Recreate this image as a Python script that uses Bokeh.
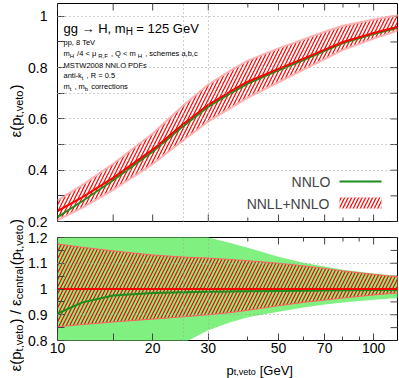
import math
from bokeh.plotting import figure
from bokeh.models import FixedTicker, Range1d, Label, BoxAnnotation, Grid
from bokeh.layouts import column, row
from bokeh.embed import file_html
from bokeh.resources import INLINE

# ---------------- data ----------------
pt_veto = [10, 12, 15, 20, 25, 30, 35, 40, 50, 60, 70, 80, 100, 120]

# upper panel: efficiency
eff_resum = [0.240, 0.295, 0.370, 0.480, 0.580, 0.655, 0.705, 0.745, 0.795, 0.835, 0.870, 0.900, 0.935, 0.960]
eff_resum_lo = [0.205, 0.254, 0.323, 0.424, 0.517, 0.590, 0.640, 0.683, 0.743, 0.792, 0.833, 0.869, 0.913, 0.946]
eff_resum_hi = [0.282, 0.343, 0.425, 0.543, 0.652, 0.734, 0.786, 0.827, 0.875, 0.910, 0.940, 0.963, 0.988, 1.005]
eff_nnlo = [0.217, 0.280, 0.361, 0.472, 0.572, 0.648, 0.698, 0.738, 0.789, 0.829, 0.865, 0.896, 0.931, 0.956]

# lower panel: ratio to central NNLL+NNLO
ratio_resum = [1.0, 1.0, 1.0, 1.0, 1.0, 1.0, 1.0, 1.0, 1.0, 1.0, 1.0, 1.0, 1.0, 1.0]
ratio_resum_lo = [0.853, 0.862, 0.872, 0.883, 0.892, 0.900, 0.908, 0.917, 0.935, 0.948, 0.957, 0.965, 0.977, 0.985]
ratio_resum_hi = [1.175, 1.162, 1.148, 1.132, 1.124, 1.120, 1.115, 1.110, 1.100, 1.090, 1.080, 1.070, 1.057, 1.047]
ratio_nnlo = [0.905, 0.948, 0.975, 0.984, 0.987, 0.989, 0.990, 0.991, 0.992, 0.993, 0.994, 0.995, 0.996, 0.996]
ratio_nnlo_lo = [0.55, 0.60, 0.66, 0.73, 0.79, 0.84, 0.87, 0.89, 0.912, 0.928, 0.940, 0.948, 0.958, 0.965]
ratio_nnlo_hi = [1.60, 1.50, 1.42, 1.31, 1.24, 1.20, 1.18, 1.16, 1.125, 1.102, 1.087, 1.075, 1.060, 1.050]

x_ticks = [10, 15, 20, 30, 50, 70, 100]
x_tick_labels = ["10", "", "20", "30", "50", "70", "100"]
x_minor_ticks = [40, 60, 80, 90]
y1_ticks = [0.2, 0.3, 0.4, 0.5, 0.6, 0.7, 0.8, 0.9, 1.0]
y1_tick_labels = ["0.2", "", "0.4", "", "0.6", "", "0.8", "", "1"]
y2_ticks = [0.8, 0.85, 0.9, 0.95, 1.0, 1.05, 1.1, 1.15, 1.2]
y2_tick_labels = ["0.8", "", "0.9", "", "1", "", "1.1", "", "1.2"]
y1_grid = [0.4, 0.5, 0.6, 0.7, 0.8, 1.0]
y2_grid = [0.9, 1.1]
veto_lines = [25, 30]

FONT = "Liberation Sans"
RED = "#ff0000"
GREEN_LINE = "#1e8c1e"
GREEN_FILL = "#80f080"
PINK = "#ffb0b0"
GRID_C = "#a0a0a0"
TICK_C = "#444444"

# ---------------- layout (window pixels, page margin 0) ----------------
YLAB_W = 24
PW = 399 - YLAB_W
xr = Range1d(10, 119)
yr1 = Range1d(0.2, 1.05)
yr2 = Range1d(0.8, 1.2)

# upper panel canvas: y 0..229, frame 3..221 ; lower panel canvas: y 229..358, frame 237..340
p1 = figure(width=PW, height=229, x_axis_type="log", x_range=xr, y_range=yr1, x_axis_location=None,
            output_backend="svg", toolbar_location=None,
            min_border_left=33, min_border_right=2, min_border_top=3, min_border_bottom=8)
p2 = figure(width=PW, height=129, x_axis_type="log", x_range=xr, y_range=yr2,
            output_backend="svg", toolbar_location=None,
            min_border_left=33, min_border_right=2, min_border_top=8, min_border_bottom=18)


def dash_ticks(p, xs, ys, size, vertical):
    p.scatter(xs, ys, marker="dash", size=size, angle=(math.pi / 2 if vertical else 0),
              line_color=TICK_C, line_width=1)


def style(p, yr, ticks, labels, grid_y):
    p.outline_line_color = "black"
    p.outline_line_width = 1
    for g in list(p.grid):
        g.visible = False
    for ax in p.yaxis:
        ax.ticker = FixedTicker(ticks=ticks, minor_ticks=[])
        ax.major_label_overrides = {t: l for t, l in zip(ticks, labels)}
        ax.major_label_standoff = 10
    for ax in p.xaxis:
        ax.ticker = FixedTicker(ticks=x_ticks, minor_ticks=x_minor_ticks)
        ax.major_label_overrides = {t: l for t, l in zip(x_ticks, x_tick_labels)}
        ax.major_label_standoff = 2
    for ax in p.axis:
        ax.axis_line_color = None
        ax.major_tick_in = 7
        ax.major_tick_out = 0
        ax.minor_tick_in = 4
        ax.minor_tick_out = 0
        ax.major_tick_line_color = TICK_C
        ax.minor_tick_line_color = TICK_C
        ax.major_label_text_font = FONT
        ax.major_label_text_font_size = "14px"
        ax.major_label_text_color = "black"
    for dim, tk in ((0, veto_lines), (1, grid_y)):
        p.add_layout(Grid(dimension=dim, ticker=FixedTicker(ticks=tk), grid_line_color=GRID_C,
                          grid_line_dash="1 3", grid_line_width=1, level="overlay"))
    # mirrored ticks on the top and right edges (half of each dash is clipped by the frame)
    dash_ticks(p, x_ticks, [yr.end] * len(x_ticks), 14, True)
    dash_ticks(p, x_minor_ticks, [yr.end] * len(x_minor_ticks), 8, True)
    dash_ticks(p, [xr.end] * len(ticks), ticks, 14, False)


style(p1, yr1, y1_ticks, y1_tick_labels, y1_grid)
style(p2, yr2, y2_ticks, y2_tick_labels, y2_grid)
# bottom ticks of the upper panel (it has no x labels)
dash_ticks(p1, x_ticks, [yr1.start] * len(x_ticks), 14, True)
dash_ticks(p1, x_minor_ticks, [yr1.start] * len(x_minor_ticks), 8, True)

# upper panel glyphs
p1.varea(pt_veto, eff_resum_lo, eff_resum_hi, fill_color=None, hatch_pattern="/",
         hatch_color=RED, hatch_scale=7, hatch_weight=1.2)
p1.line(pt_veto, eff_resum_lo, line_color=PINK, line_width=2)
p1.line(pt_veto, eff_resum_hi, line_color=PINK, line_width=2)
p1.line(pt_veto, eff_nnlo, line_color=GREEN_LINE, line_width=2)
p1.line(pt_veto, eff_resum, line_color=RED, line_width=2)

# lower panel glyphs
p2.varea(pt_veto, ratio_nnlo_lo, ratio_nnlo_hi, fill_color=GREEN_FILL)
p2.varea(pt_veto, ratio_resum_lo, ratio_resum_hi, fill_color=None, hatch_pattern="/",
         hatch_color=RED, hatch_scale=7, hatch_weight=1.2)
p2.line(pt_veto, ratio_resum_lo, line_color="#ff6060", line_width=1)
p2.line(pt_veto, ratio_resum_hi, line_color="#ff6060", line_width=1)
p2.line(pt_veto, ratio_nnlo, line_color=GREEN_LINE, line_width=2)
p2.line(pt_veto, ratio_resum, line_color=RED, line_width=2)


# strips holding the axis titles (their frame fills the whole canvas)
def strip(w, h):
    f = figure(width=w, height=h, x_range=Range1d(0, 1), y_range=Range1d(0, 1),
               x_axis_location=None, y_axis_location=None, output_backend="svg", toolbar_location=None,
               min_border=0)
    f.outline_line_color = None
    f.grid.visible = False
    return f


ylab = strip(YLAB_W, 378)
xlab = strip(PW, 20)          # y 358..378

# ---------------- rich text helper ----------------
W = {' ': 278, '(': 333, ')': 333, '+': 584, ',': 278, '-': 333, '.': 278, '/': 278, '<': 584, '=': 584,
     '[': 278, ']': 278, 'μ': 576, 'ε': 450, '→': 1000}
for c in "0123456789":
    W[c] = 556
W.update(dict(zip("ABCDEFGHIJKLMNOPQRSTUVWXYZ",
                  [667, 667, 722, 722, 667, 611, 778, 722, 278, 500, 667, 556, 833, 722, 778, 667, 778, 722, 667, 611, 722, 667, 944, 667, 667, 611])))
W.update(dict(zip("abcdefghijklmnopqrstuvwxyz",
                  [556, 556, 500, 556, 556, 278, 556, 556, 222, 222, 500, 222, 833, 556, 556, 556, 556, 333, 500, 278, 556, 500, 722, 500, 500, 500])))


def tw(s, size):
    return sum(W.get(c, 556) for c in s) / 1000.0 * size


# (figure, frame-left x, frame-bottom y) in window pixels
T1 = (p1, 57, 221)
TY = (ylab, 0, 378)
TX = (xlab, YLAB_W, 378)


def rich(target, segs, wx, wy, vertical=False):
    """segs: (text, font size, baseline shift down, extra gap after)"""
    fig, fl, fb = target
    pos = wy if vertical else wx
    for text, size, shift, gap in segs:
        if vertical:
            lab = Label(x=wx + shift - fl, y=fb - pos, angle=math.pi / 2)
        else:
            lab = Label(x=pos - fl, y=fb - (wy + shift))
        lab.update(x_units="screen", y_units="screen", text=text, text_font=FONT,
                   text_font_size=f"{size}px", text_baseline="alphabetic", text_align="left",
                   text_color="black")
        fig.add_layout(lab)
        w = tw(text, size) + gap
        pos = pos - w if vertical else pos + w


S, s, d, g = 7.5, 6, 2, 3
rich(T1, [("gg → H, m", 13, 0, 0), ("H", 10, 3, 3.5), ("= 125 GeV", 13, 0, 0)], 63, 28)
rich(T1, [("pp, 8 TeV", S, 0, 0)], 63, 42)
rich(T1, [("m", S, 0, 0), ("H", s, d, g), (" /4 < μ", S, 0, 0), ("R,F", s, d, g), (" , Q < m", S, 0, 0),
          ("H", s, d, g), (" , schemes a,b,c", S, 0, 0)], 63, 53)
rich(T1, [("MSTW2008 NNLO PDFs", S, 0, 0)], 63, 65)
rich(T1, [("anti-k", S, 0, 0), ("t", s, d, g), (", R = 0.5", S, 0, 0)], 63, 75)
rich(T1, [("m", S, 0, 0), ("t", s, d, g), (", m", S, 0, 0), ("b", s, d, g), (" corrections", S, 0, 0)], 63, 86)

# axis titles
rich(TX, [("p", 13, 0, 0), ("t,veto", 9, 1.5, 4), ("[GeV]", 13, 0, 0)], 193, 370)
rich(TY, [("ε(p", 15, 0, 0), ("t,veto", 11, 3, 1), (")", 15, 0, 0)], 15, 137, vertical=True)
rich(TY, [("ε(p", 15, 0, 0), ("t,veto", 11, 3, 1), (") / ε", 15, 0, 0), ("central", 11, 3, 1),
          ("(p", 15, 0, 0), ("t,veto", 11, 3, 1), (")", 15, 0, 0)], 15, 371, vertical=True)

# legend (label on the left, sample on the right)
p1.add_layout(Label(x=273, y=40, x_units="screen", y_units="screen", text="NNLO", text_font=FONT,
                    text_font_size="14px", text_align="right", text_baseline="middle"))
p1.add_layout(Label(x=272, y=18, x_units="screen", y_units="screen", text="NNLL+NNLO", text_font=FONT,
                    text_font_size="14px", text_align="right", text_baseline="middle"))
p1.add_layout(BoxAnnotation(left=282, right=324, bottom=39, top=41, left_units="screen", right_units="screen",
                            bottom_units="screen", top_units="screen", fill_color=GREEN_LINE, fill_alpha=1,
                            line_color=None))
p1.add_layout(BoxAnnotation(left=282, right=324, bottom=13, top=24, left_units="screen", right_units="screen",
                            bottom_units="screen", top_units="screen", fill_color=None, fill_alpha=0,
                            line_color=PINK, line_width=1, hatch_pattern="/", hatch_color=RED,
                            hatch_scale=7, hatch_weight=1.2))

layout = row(ylab, column(p1, p2, xlab, spacing=0), spacing=0)
open("out.html", "w").write(file_html(layout, INLINE))
